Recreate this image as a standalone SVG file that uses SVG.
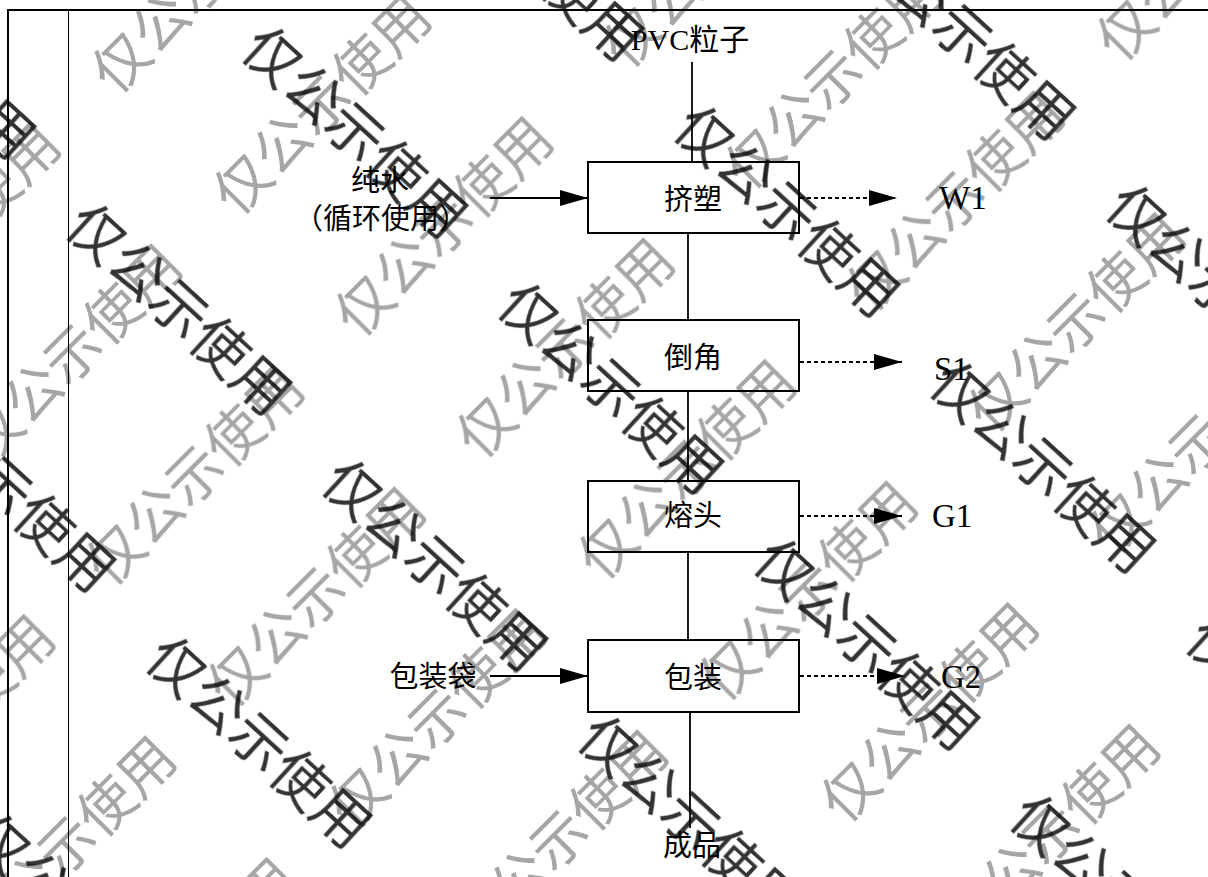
<svg xmlns="http://www.w3.org/2000/svg" width="1208" height="877" viewBox="0 0 1208 877">
<style>
.box{fill:#fff;stroke:#000;stroke-width:2}
.ln{stroke:#000;stroke-width:1.8;fill:none}
.dash{stroke-dasharray:4 3}
.cn{font-family:"Noto Sans CJK SC","Noto Sans CJK JP",sans-serif;font-size:29px;fill:#000;text-anchor:middle}
.lat{font-family:"Liberation Serif",serif;font-size:33px;fill:#000}
.wm{font-family:"Noto Sans CJK SC","Noto Sans CJK JP",sans-serif;font-size:56px;text-anchor:middle;mix-blend-mode:multiply}
.wg{fill:#a6a6a6}
.wd{fill:#333}
</style>
<defs>
<marker id="ah" markerUnits="userSpaceOnUse" markerWidth="28" markerHeight="17" refX="28" refY="8.5" orient="auto">
<path d="M0,0.5 L28,8.5 L0,16.5 Z" fill="#000"/>
</marker>
</defs>
<rect width="1208" height="877" fill="#fff"/>
<g id="frame" stroke="#000" fill="none">
<path d="M7,10 H1208" stroke-width="2"/>
<path d="M8,9 V877" stroke-width="2"/>
<path d="M68.5,10 V877" stroke-width="1"/>
</g>
<g id="connectors">
<path class="ln" d="M692,62 V162"/>
<path class="ln" d="M688,233 V320"/>
<path class="ln" d="M688,391 V481"/>
<path class="ln" d="M688,552 V640"/>
<path class="ln" d="M690,712 V828"/>
<path class="ln" d="M490,198 H588" marker-end="url(#ah)"/>
<path class="ln" d="M490,676 H588" marker-end="url(#ah)"/>
<path class="ln dash" d="M800,198 H897" marker-end="url(#ah)"/>
<path class="ln dash" d="M800,362 H902" marker-end="url(#ah)"/>
<path class="ln dash" d="M800,516 H902" marker-end="url(#ah)"/>
<path class="ln dash" d="M800,676 H905" marker-end="url(#ah)"/>
</g>
<g id="node-jisu"><rect class="box" x="588" y="162" width="211" height="71"/><text class="cn" x="693" y="209.5">挤塑</text></g>
<g id="node-daojiao"><rect class="box" x="588" y="320" width="211" height="71"/><text class="cn" x="693" y="367.5">倒角</text></g>
<g id="node-rongtou"><rect class="box" x="588" y="481" width="211" height="71"/><text class="cn" x="693" y="525.5">熔头</text></g>
<g id="node-baozhuang"><rect class="box" x="588" y="640" width="211" height="72"/><text class="cn" x="693" y="687.5">包装</text></g>
<g id="label-pvc"><text x="690" y="50" style="font-size:30px;text-anchor:middle"><tspan style="font-family:'Liberation Serif',serif">PVC</tspan><tspan style="font-family:'Noto Sans CJK SC','Noto Sans CJK JP',sans-serif">粒子</tspan></text></g>
<g id="label-water"><text class="cn" x="380" y="190.5">纯水</text><text class="cn" x="381" y="228.5">（循环使用）</text></g>
<g id="label-bag"><text class="cn" x="433" y="686.5">包装袋</text></g>
<g id="label-product"><text class="cn" x="692" y="855.5">成品</text></g>
<g id="label-w1"><text class="lat" x="939" y="209">W1</text></g>
<g id="label-s1"><text class="lat" x="934" y="380">S1</text></g>
<g id="label-g1"><text class="lat" x="932" y="527">G1</text></g>
<g id="label-g2"><text class="lat" x="941" y="688">G2</text></g>
<g id="watermark">
<g class="wm wg">
<text transform="translate(67,846) rotate(-45)" y="20">仅公示使用</text>
<text transform="translate(188.5,967.5) rotate(-45)" y="20">仅公示使用</text>
<text transform="translate(-54.5,724.5) rotate(-45)" y="20">仅公示使用</text>
<text transform="translate(-48.5,232.5) rotate(-45)" y="20">仅公示使用</text>
<text transform="translate(73,354) rotate(-45)" y="20">仅公示使用</text>
<text transform="translate(194.5,475.5) rotate(-45)" y="20">仅公示使用</text>
<text transform="translate(316,597) rotate(-45)" y="20">仅公示使用</text>
<text transform="translate(437.5,718.5) rotate(-45)" y="20">仅公示使用</text>
<text transform="translate(559,840) rotate(-45)" y="20">仅公示使用</text>
<text transform="translate(200.5,-16.5) rotate(-45)" y="20">仅公示使用</text>
<text transform="translate(322,105) rotate(-45)" y="20">仅公示使用</text>
<text transform="translate(443.5,226.5) rotate(-45)" y="20">仅公示使用</text>
<text transform="translate(565,348) rotate(-45)" y="20">仅公示使用</text>
<text transform="translate(686.5,469.5) rotate(-45)" y="20">仅公示使用</text>
<text transform="translate(808,591) rotate(-45)" y="20">仅公示使用</text>
<text transform="translate(929.5,712.5) rotate(-45)" y="20">仅公示使用</text>
<text transform="translate(1051,834) rotate(-45)" y="20">仅公示使用</text>
<text transform="translate(712,-42) rotate(-45)" y="20">仅公示使用</text>
<text transform="translate(833.5,79.5) rotate(-45)" y="20">仅公示使用</text>
<text transform="translate(955,201) rotate(-45)" y="20">仅公示使用</text>
<text transform="translate(1076.5,322.5) rotate(-45)" y="20">仅公示使用</text>
<text transform="translate(1198,444) rotate(-45)" y="20">仅公示使用</text>
<text transform="translate(1205,-49) rotate(-45)" y="20">仅公示使用</text>
</g>
<g class="wm wd">
<text transform="translate(-77,53) rotate(42.5)" y="20">仅公示使用</text>
<text transform="translate(355,132) rotate(42.5)" y="20">仅公示使用</text>
<text transform="translate(179,309) rotate(42.5)" y="20">仅公示使用</text>
<text transform="translate(3,486) rotate(42.5)" y="20">仅公示使用</text>
<text transform="translate(531,-45) rotate(42.5)" y="20">仅公示使用</text>
<text transform="translate(611,388) rotate(42.5)" y="20">仅公示使用</text>
<text transform="translate(435,565) rotate(42.5)" y="20">仅公示使用</text>
<text transform="translate(259,742) rotate(42.5)" y="20">仅公示使用</text>
<text transform="translate(83,919) rotate(42.5)" y="20">仅公示使用</text>
<text transform="translate(787,211) rotate(42.5)" y="20">仅公示使用</text>
<text transform="translate(963,34) rotate(42.5)" y="20">仅公示使用</text>
<text transform="translate(867,644) rotate(42.5)" y="20">仅公示使用</text>
<text transform="translate(691,821) rotate(42.5)" y="20">仅公示使用</text>
<text transform="translate(1043,467) rotate(42.5)" y="20">仅公示使用</text>
<text transform="translate(1219,290) rotate(42.5)" y="20">仅公示使用</text>
<text transform="translate(1123,900) rotate(42.5)" y="20">仅公示使用</text>
<text transform="translate(1299,723) rotate(42.5)" y="20">仅公示使用</text>
</g>
</g>
</svg>
